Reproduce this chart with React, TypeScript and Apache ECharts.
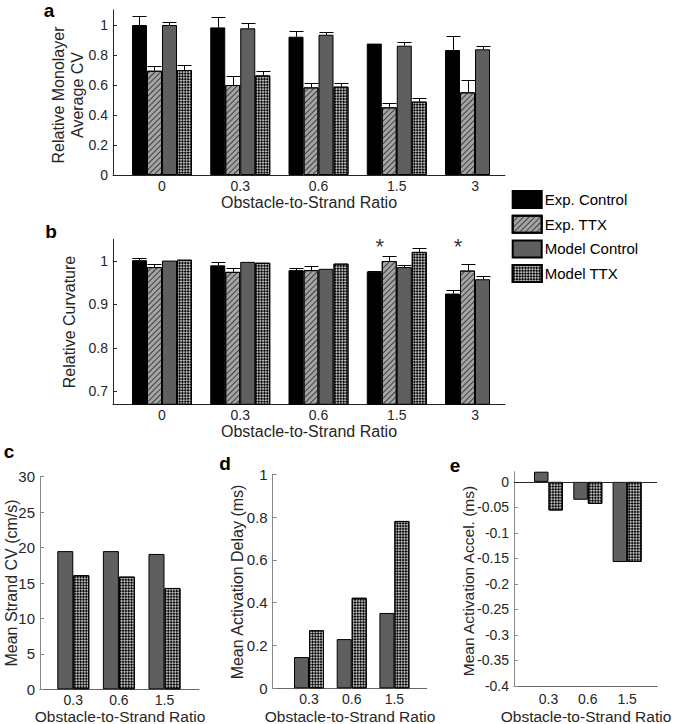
import React, { useEffect, useRef } from 'react';
import * as echarts from 'echarts';

// ---------- data ----------
const catsAB = ['0', '0.3', '0.6', '1.5', '3'];
const catsCDE = ['0.3', '0.6', '1.5'];
const seriesNames = ['Exp. Control', 'Exp. TTX', 'Model Control', 'Model TTX'];

// panel a: relative monolayer average CV (bar top, error-bar top)
const aExpCtrl = [1.0, 0.984, 0.922, 0.876, 0.833];
const aExpCtrlErr = [1.062, 1.056, 0.962, null, 0.929];
const aExpTTX = [0.695, 0.6, 0.584, 0.451, 0.551];
const aExpTTXErr = [0.729, 0.662, 0.611, 0.482, 0.636];
const aModCtrl = [1.0, 0.978, 0.935, 0.862, 0.838];
const aModCtrlErr = [1.018, 1.011, 0.955, 0.884, 0.862];
const aModTTX = [0.7, 0.664, 0.589, 0.489, null];
const aModTTXErr = [0.733, 0.693, 0.611, 0.515, null];

// panel b: relative curvature
const bExpCtrl = [1.002, 0.99, 0.979, 0.975, 0.925];
const bExpCtrlErr = [1.007, 0.998, 0.985, 0.977, 0.934];
const bExpTTX = [0.986, 0.975, 0.979, 1.0, 0.978];
const bExpTTXErr = [0.992, 0.984, 0.988, 1.012, 0.994];
const bModCtrl = [1.001, 0.998, 0.982, 0.986, 0.958];
const bModCtrlErr = [null, null, null, 0.991, 0.966];
const bModTTX = [1.003, 0.996, 0.994, 1.021, null];
const bModTTXErr = [null, null, null, 1.03, null];
const bStarCats = [4, 5];
const bStarY = [1.034, 1.034];

// panel c: mean strand CV (cm/s)
const cModCtrl = [19.5, 19.5, 19.1];
const cModTTX = [16.1, 15.9, 14.3];
// panel d: mean activation delay (ms)
const dModCtrl = [0.146, 0.23, 0.352];
const dModTTX = [0.271, 0.423, 0.782];
// panel e: mean activation accel. (ms)
const eModCtrl = [0.02, -0.035, -0.157];
const eModTTX = [-0.056, -0.043, -0.157];

// tick values
const aYTicks = [0, 0.2, 0.4, 0.6, 0.8, 1];
const bYTicks = [0.7, 0.8, 0.9, 1];
const eYTicks = [-0.4, -0.35, -0.3, -0.25, -0.2, -0.15, -0.1, -0.05, 0];

// ---------- styles ----------
const FONT = 'Liberation Sans, Arial, Helvetica, sans-serif';
const TXT = '#262626';

const styles = [
  { color: '#000000', borderColor: '#000', borderWidth: 1 },
  {
    color: '#a4a4a4', borderColor: '#000', borderWidth: 1,
    decal: { symbol: 'rect', symbolSize: 1, dashArrayX: [1, 0], dashArrayY: [1, 3], rotation: -Math.PI / 4, color: '#404040' },
  },
  { color: '#5f5f5f', borderColor: '#000', borderWidth: 1 },
  {
    color: '#b4b4b4', borderColor: '#000', borderWidth: 1,
    decal: { symbol: 'rect', symbolSize: 1, dashArrayX: [[2, 2], [0, 2, 2, 0]], dashArrayY: [2, 0], rotation: Math.PI / 4, color: '#0a0a0a' },
  },
];

const fmt = (v: number) => String(Number(v.toFixed(3)));

function errSeries(grid: number, tops: (number | null)[][], errs: (number | null)[][], bw: number, offsetIdx: number[]) {
  const data: number[][] = [];
  tops.forEach((t, s) => {
    t.forEach((v, i) => {
      const e = errs[s][i];
      if (v != null && e != null) data.push([i + 1, v, e, offsetIdx[s]]);
    });
  });
  const n = tops.length;
  return {
    type: 'custom',
    xAxisIndex: grid,
    yAxisIndex: grid,
    z: 5,
    silent: true,
    encode: { x: 0, y: [1, 2] },
    data,
    renderItem: (params: any, api: any) => {
      const x = api.value(0), t = api.value(1), e = api.value(2), k = api.value(3);
      const p1 = api.coord([x, t]);
      const p2 = api.coord([x, e]);
      const cx = Math.round(p1[0] + (k - (n - 1) / 2) * bw) + 0.5;
      const hw = bw / 2 - 0.5;
      const y2 = Math.round(p2[1]) + 0.5;
      return {
        type: 'group',
        children: [
          { type: 'line', shape: { x1: cx, y1: p1[1], x2: cx, y2 }, style: { stroke: '#000', lineWidth: 1 } },
          { type: 'line', shape: { x1: cx - hw, y1: y2, x2: cx + hw, y2 }, style: { stroke: '#000', lineWidth: 1 } },
        ],
      };
    },
  };
}

function barSeries(grid: number, name: string, values: (number | null)[], styleIdx: number, bw: number) {
  return {
    type: 'bar',
    name,
    xAxisIndex: grid,
    yAxisIndex: grid,
    barWidth: bw,
    barGap: '0%',
    clip: true,
    itemStyle: styles[styleIdx],
    data: values.map((v, i) => [i + 1, v]),
  };
}

function xAxisDef(grid: number, min: number, max: number, labels: string[], color: string, fs: number, margin: number) {
  return {
    type: 'value',
    gridIndex: grid,
    min,
    max,
    splitLine: { show: false },
    axisTick: { show: false },
    axisLine: { onZero: false, lineStyle: { color, width: 1 } },
    axisLabel: {
      customValues: labels.map((_, i) => i + 1),
      formatter: (v: number) => labels[Math.round(v) - 1],
      color: TXT,
      fontSize: fs,
      fontFamily: FONT,
      margin,
    },
  };
}

function yAxisDef(grid: number, min: number, max: number, color: string, fs: number, ticks?: number[], interval?: number) {
  const ax: any = {
    type: 'value',
    gridIndex: grid,
    min,
    max,
    splitLine: { show: false },
    axisLine: { show: true, onZero: false, lineStyle: { color, width: 1 } },
    axisTick: { show: true, inside: true, length: 4, lineStyle: { color } },
    axisLabel: { color: TXT, fontSize: fs, fontFamily: FONT, margin: 5, formatter: (v: number) => fmt(v) },
  };
  if (interval != null) ax.interval = interval;
  if (ticks) {
    ax.axisLabel.customValues = ticks;
    ax.axisTick.customValues = ticks;
  }
  return ax;
}

function txt(text: string, x: number, y: number, size: number, opts: any = {}) {
  return {
    type: 'text',
    x,
    y,
    rotation: opts.rotate ? Math.PI / 2 : 0,
    style: {
      text,
      fill: opts.color || TXT,
      font: `${opts.bold ? 'bold ' : ''}${size}px ${FONT}`,
      textAlign: opts.align || 'center',
      textVerticalAlign: 'middle',
      lineHeight: opts.lineHeight,
    },
  };
}

export default function App() {
  const ref = useRef<HTMLDivElement>(null);
  useEffect(() => {
    if (!ref.current) return;
    const chart = echarts.init(ref.current, undefined, { renderer: 'svg' });
    const ABW = 15;
    const option: any = {
      animation: false,
      backgroundColor: '#ffffff',
      textStyle: { fontFamily: FONT },
      grid: [
        { left: 113, top: 10, width: 392, height: 165, outerBoundsMode: 'none' },
        { left: 113, top: 239.3, width: 392, height: 165, outerBoundsMode: 'none' },
        { left: 40, top: 476.7, width: 159, height: 212.6, outerBoundsMode: 'none' },
        { left: 272.7, top: 474.3, width: 154, height: 214, outerBoundsMode: 'none' },
        { left: 514, top: 471.7, width: 143, height: 214.3, outerBoundsMode: 'none' },
      ],
      xAxis: [
        xAxisDef(0, 0.374, 5.383, catsAB, '#262626', 14, 4),
        xAxisDef(1, 0.374, 5.383, catsAB, '#262626', 14, 4),
        xAxisDef(2, 0.27, 3.757, catsCDE, '#666', 14, 4),
        xAxisDef(3, 0.15, 3.756, catsCDE, '#666', 14, 4),
        xAxisDef(4, 0.122, 3.76, catsCDE, '#666', 14, 6),
      ],
      yAxis: [
        yAxisDef(0, 0, 1.1, '#262626', 14, aYTicks),
        yAxisDef(1, 0.67, 1.05, '#262626', 14, bYTicks),
        yAxisDef(2, 0, 30, '#888', 15, undefined, 5),
        yAxisDef(3, 0, 1, '#888', 15, undefined, 0.2),
        yAxisDef(4, -0.4, 0.02, '#888', 14, eYTicks),
      ],
      legend: {
        orient: 'vertical',
        left: 511.7,
        top: 190,
        padding: 0,
        itemWidth: 29,
        itemHeight: 17,
        itemGap: 5.7,
        icon: 'rect',
        selectedMode: false,
        data: seriesNames,
        textStyle: { color: '#000', fontSize: 15, fontFamily: FONT, padding: [0, 0, 0, -2] },
      },
      series: [
        // panel a
        barSeries(0, seriesNames[0], aExpCtrl, 0, ABW),
        barSeries(0, seriesNames[1], aExpTTX, 1, ABW),
        barSeries(0, seriesNames[2], aModCtrl, 2, ABW),
        barSeries(0, seriesNames[3], aModTTX, 3, ABW),
        errSeries(0, [aExpCtrl, aExpTTX, aModCtrl, aModTTX], [aExpCtrlErr, aExpTTXErr, aModCtrlErr, aModTTXErr], ABW, [0, 1, 2, 3]),
        // panel b
        barSeries(1, seriesNames[0], bExpCtrl, 0, ABW),
        barSeries(1, seriesNames[1], bExpTTX, 1, ABW),
        barSeries(1, seriesNames[2], bModCtrl, 2, ABW),
        barSeries(1, seriesNames[3], bModTTX, 3, ABW),
        errSeries(1, [bExpCtrl, bExpTTX, bModCtrl, bModTTX], [bExpCtrlErr, bExpTTXErr, bModCtrlErr, bModTTXErr], ABW, [0, 1, 2, 3]),
        {
          type: 'scatter',
          xAxisIndex: 1,
          yAxisIndex: 1,
          symbol: 'circle',
          symbolSize: 1,
          silent: true,
          itemStyle: { color: 'rgba(0,0,0,0)' },
          label: { show: true, position: 'inside', formatter: '*', offset: [-17, 0], fontSize: 22, color: '#000', fontFamily: FONT },
          data: bStarCats.map((c, i) => [c, bStarY[i]]),
        },
        // panel c
        barSeries(2, seriesNames[2], cModCtrl, 2, 16),
        barSeries(2, seriesNames[3], cModTTX, 3, 16),
        // panel d
        barSeries(3, seriesNames[2], dModCtrl, 2, 15),
        barSeries(3, seriesNames[3], dModTTX, 3, 15),
        // panel e
        {
          ...barSeries(4, seriesNames[2], eModCtrl, 2, 14.5),
          markLine: {
            silent: true,
            symbol: 'none',
            label: { show: false },
            lineStyle: { color: '#262626', width: 1, type: 'solid' },
            data: [{ yAxis: 0 }],
          },
        },
        barSeries(4, seriesNames[3], eModTTX, 3, 14.5),
      ],
      graphic: [
        txt('a', 49, 10, 19, { bold: true, color: '#000' }),
        txt('b', 51, 231, 19, { bold: true, color: '#000' }),
        txt('c', 9, 451, 19, { bold: true, color: '#000' }),
        txt('d', 225, 463, 19, { bold: true, color: '#000' }),
        txt('e', 455, 465, 19, { bold: true, color: '#000' }),
        txt('Relative Monolayer\nAverage CV', 68, 95, 16, { rotate: true, lineHeight: 19 }),
        txt('Obstacle-to-Strand Ratio', 309, 202.5, 16),
        txt('Relative Curvature', 69, 322, 16, { rotate: true }),
        txt('Obstacle-to-Strand Ratio', 309, 431.5, 16),
        txt('Mean Strand CV (cm/s)', 11, 583, 16, { rotate: true }),
        txt('Obstacle-to-Strand Ratio', 120, 716, 15.5),
        txt('Mean Activation Delay (ms)', 237, 582, 16, { rotate: true }),
        txt('Obstacle-to-Strand Ratio', 350, 716, 15.5),
        txt('Mean Activation Accel. (ms)', 468, 581, 15.5, { rotate: true }),
        txt('Obstacle-to-Strand Ratio', 586, 716, 15.5),
      ],
    };
    chart.setOption(option);
    return () => chart.dispose();
  }, []);
  return <div ref={ref} style={{ position: 'absolute', left: 0, top: 0, width: 677, height: 724, background: '#fff' }} />;
}
